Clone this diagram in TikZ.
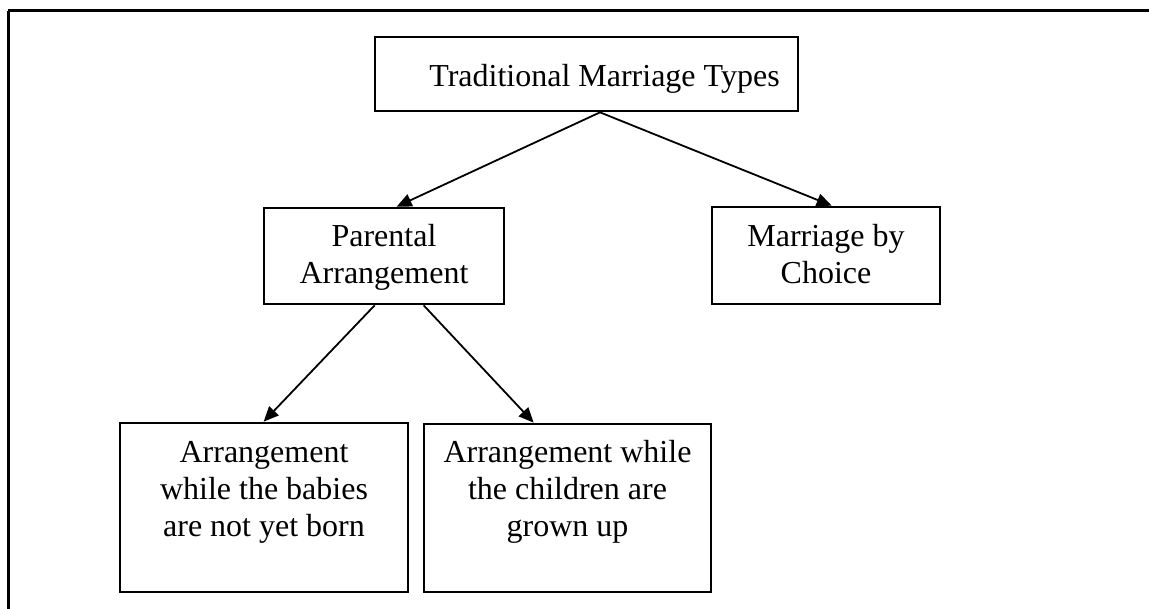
\documentclass[tikz,border=0pt]{standalone}
\usepackage{fontspec}
\setmainfont{Liberation Serif}
\usetikzlibrary{arrows.meta,calc}
\begin{document}
\begin{tikzpicture}[x=1pt,y=-1pt,
  box/.style={draw=black,line width=2.7pt,rectangle,inner sep=0pt},
  txt/.style={anchor=base,align=center,font=\fontsize{32}{37}\selectfont,inner sep=0pt},
  conn/.style={draw=black,line width=1.8pt,-{Triangle[length=15pt,width=13pt]}},
  frame/.style={draw=black,line width=3pt}]
\useasboundingbox (0,0) rectangle (1149,609);
% outer frame (top and left only)
\draw[frame] (8,11) -- (1149,11);
\draw[frame] (8,11) -- (8,609);
% boxes
\node[box,minimum width=423pt,minimum height=74pt] (top) at (586.5,74) {};
\node[box,minimum width=240pt,minimum height=96pt] (pa) at (384,256) {};
\node[box,minimum width=228pt,minimum height=97pt] (mc) at (826,255.5) {};
\node[box,minimum width=288pt,minimum height=169pt] (bl) at (264,507.5) {};
\node[box,minimum width=287pt,minimum height=168pt] (br) at (567.5,508) {};
% texts (anchor base = baseline of last line; line pitch 37)
\node[txt] (ttop) at ($(top.north)+(18,51)$) {Traditional Marriage Types};
\node[txt] (tpa) at ($(pa.north)+(0,77)$) {Parental\\Arrangement};
\node[txt] (tmc) at ($(mc.north)+(0,78)$) {Marriage by\\Choice};
\node[txt] (tbl) at ($(bl.north)+(0,115)$) {Arrangement\\while the babies\\are not yet born};
\node[txt] (tbr) at ($(br.north)+(0,114)$) {Arrangement while\\the children are\\grown up};
% connectors
\coordinate (t0) at ($(top.south)+(13.5,0)$);
\draw[conn] (t0) -- ($(pa.north west)+(134,0)$);
\draw[conn] (t0) -- ($(mc.north west)+(121,0)$);
\draw[conn] ($(pa.south west)+(112,0)$) -- ($(bl.north west)+(145,0)$);
\draw[conn] ($(pa.south west)+(161,0)$) -- ($(br.north west)+(111,0)$);
\end{tikzpicture}
\end{document}
